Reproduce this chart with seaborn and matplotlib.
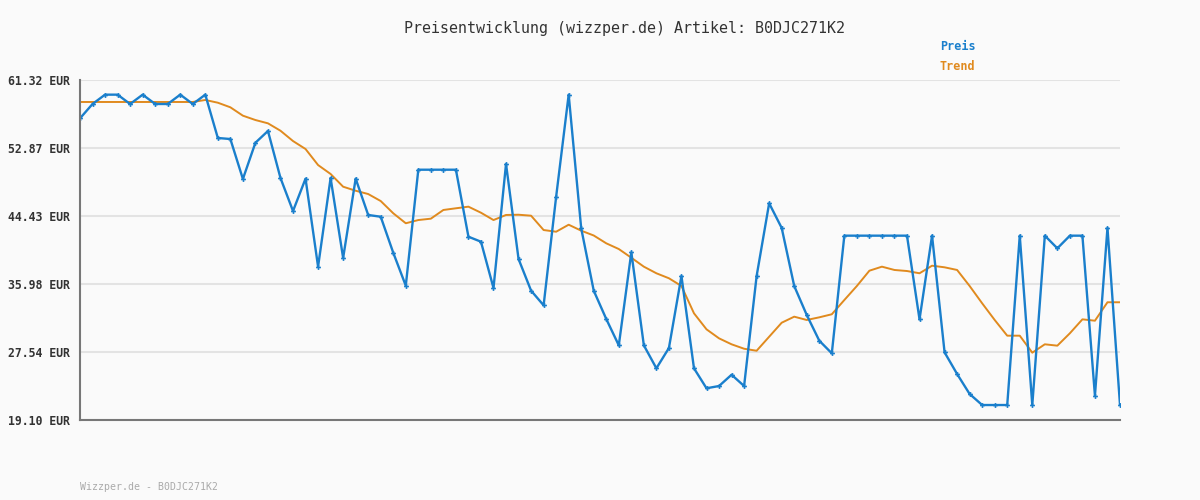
import numpy as np
import pandas as pd
import matplotlib
matplotlib.use("Agg")
import matplotlib.pyplot as plt
import seaborn as sns

# Preis (blue) and Trend (orange)
preis = [56.56, 58.34, 59.50, 59.50, 58.34, 59.50, 58.34, 58.34, 59.50, 58.34,
         59.50, 54.12, 53.99, 49.03, 53.53, 54.99, 49.15, 45.05, 49.07, 38.14,
         49.15, 39.22, 49.07, 44.56, 44.34, 39.87, 35.78, 50.18, 50.18, 50.18,
         50.18, 41.86, 41.24, 35.49, 50.89, 39.09, 35.16, 33.34, 46.83, 59.50,
         42.90, 35.16, 31.64, 28.37, 39.92, 28.37, 25.52, 28.04, 36.98, 25.52,
         23.04, 23.32, 24.72, 23.32, 36.98, 46.01, 42.95, 35.74, 32.14, 28.95,
         27.38, 41.99, 41.99, 41.99, 41.99, 41.99, 41.99, 31.60, 41.99, 27.50,
         24.81, 22.33, 20.96, 20.96, 20.96, 41.99, 20.96, 41.99, 40.42, 41.99,
         41.99, 22.12, 42.95, 20.96]
trend = [58.59, 58.59, 58.59, 58.59, 58.59, 58.59, 58.59, 58.59, 58.59, 58.59,
         58.84, 58.50, 57.93, 56.89, 56.35, 55.94, 55.02, 53.74, 52.75, 50.76,
         49.65, 48.07, 47.57, 47.16, 46.29, 44.77, 43.53, 43.93, 44.10, 45.18,
         45.39, 45.59, 44.84, 43.93, 44.56, 44.59, 44.47, 42.69, 42.48, 43.35,
         42.61, 42.01, 41.04, 40.33, 39.25, 38.14, 37.32, 36.70, 35.74, 32.35,
         30.36, 29.24, 28.50, 27.95, 27.70, 29.44, 31.18, 31.93, 31.52, 31.85,
         32.23, 34.00, 35.74, 37.64, 38.14, 37.73, 37.60, 37.32, 38.26, 38.06,
         37.73, 35.74, 33.59, 31.52, 29.57, 29.57, 27.46, 28.50, 28.33, 29.87,
         31.60, 31.43, 33.72, 33.72]
y_ticks = [19.10, 27.54, 35.98, 44.43, 52.87, 61.32]

df = pd.DataFrame({"idx": np.arange(len(preis)), "preis": preis, "trend": trend})

sns.set_style("white")
plt.rcParams["font.family"] = ["DejaVu Sans Mono"]
bg = "#fafafa"
fig = plt.figure(figsize=(12, 5), dpi=100, facecolor=bg)
ax = fig.add_axes([80/1200, 80/500, 1040/1200, 340/500])
ax.set_facecolor(bg)

sns.lineplot(data=df, x="idx", y="trend", ax=ax, color="#e08a1e", linewidth=1.4)
sns.lineplot(data=df, x="idx", y="preis", ax=ax, color="#1a7fcc", linewidth=1.7,
             marker="P", markersize=3.5, markeredgewidth=0)

ax.set_xlim(0, len(preis) - 1)
ax.set_ylim(y_ticks[0], y_ticks[-1])
ax.set_yticks(y_ticks)
ax.set_yticklabels([f"{v:.2f} EUR" for v in y_ticks], fontsize=8.3, color="#333333", fontweight="bold")
ax.set_xticks([])
ax.set_xlabel("")
ax.set_ylabel("")
ax.tick_params(axis="y", length=0, pad=7)
ax.grid(axis="y", color="#e3e3e3", linewidth=1.5)
for s in ["top", "right"]:
    ax.spines[s].set_visible(False)
for s in ["left", "bottom"]:
    ax.spines[s].set_color("#777777")
    ax.spines[s].set_linewidth(1.5)

fig.text(0.52, 1 - 28/500, "Preisentwicklung (wizzper.de) Artikel: B0DJC271K2",
         ha="center", va="center", fontsize=10.8, color="#333333")
fig.text(940/1200, 1 - 47/500, "Preis", ha="left", va="center", fontsize=8.5,
         color="#1a7fcc", fontweight="bold")
fig.text(940/1200, 1 - 67/500, "Trend", ha="left", va="center", fontsize=8.5,
         color="#e08a1e", fontweight="bold")
fig.text(80/1200, 1 - 487/500, "Wizzper.de - B0DJC271K2", ha="left", va="center",
         fontsize=7.1, color="#aaaaaa")

fig.savefig("out.png", dpi=100, facecolor=bg)
